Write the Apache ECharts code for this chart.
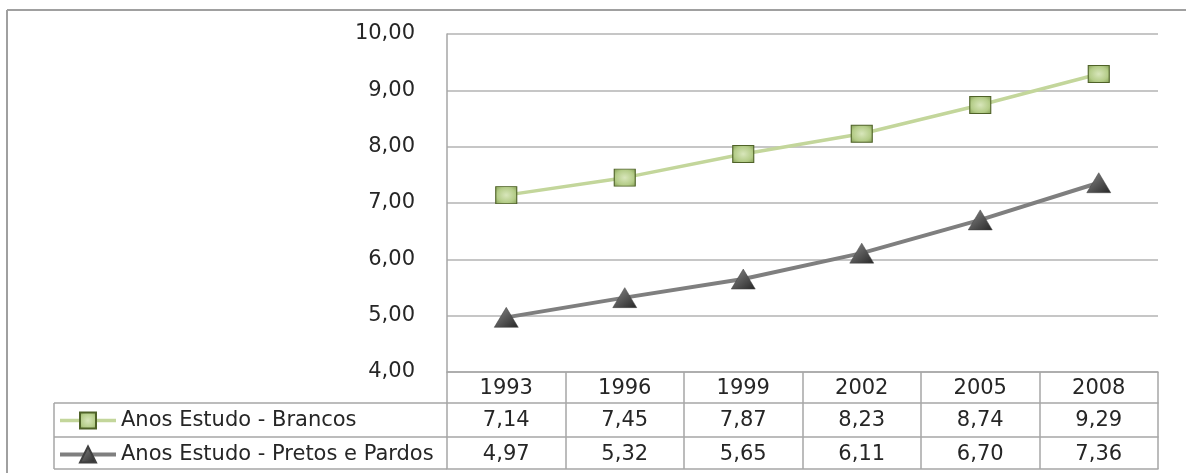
<!DOCTYPE html>
<html>
<head>
<meta charset="utf-8">
<script src="https://cdn.jsdelivr.net/npm/echarts@6/dist/echarts.min.js"></script>
<style>
html,body{margin:0;padding:0;background:#fff;}
#chart{width:1186px;height:473px;}
</style>
</head>
<body>
<div id="chart"></div>
<script>
const categories = ['1993', '1996', '1999', '2002', '2005', '2008'];
const brancos = [7.14, 7.45, 7.87, 8.23, 8.74, 9.29];
const pretos = [4.97, 5.32, 5.65, 6.11, 6.70, 7.36];
const seriesNames = ['Anos Estudo - Brancos', 'Anos Estudo - Pretos e Pardos'];
const yMin = 4, yMax = 10, yStep = 1;

const fmt = v => Number(v).toFixed(2).replace('.', ',');
const FONT = 'DejaVu Sans';
const FS = 21;
const TXT = '#262626';
const LINE = '#a6a6a6';
const GREEN = '#c3d69b';
const GRAY = '#7f7f7f';

const chart = echarts.init(document.getElementById('chart'));

const baseX = {
  type: 'category',
  data: categories,
  boundaryGap: true,
  position: 'bottom',
  gridIndex: 0,
  axisLine: { show: true, lineStyle: { color: LINE, width: 1.5 } },
  splitLine: { show: false }
};

const option = {
  backgroundColor: '#fff',
  animation: false,
  textStyle: { fontFamily: FONT },
  grid: { left: 447, right: 28, top: 34, bottom: 101, containLabel: false },
  legend: {
    orient: 'vertical',
    left: 53,
    top: 405,
    itemWidth: 56,
    itemHeight: 20,
    itemGap: 13,
    textStyle: { fontFamily: FONT, fontSize: FS, color: TXT, lineHeight: 20 },
    data: [
      { name: seriesNames[0], lineStyle: { width: 3.5, color: GREEN } },
      { name: seriesNames[1], lineStyle: { width: 4, color: GRAY } }
    ]
  },
  xAxis: [
    Object.assign({}, baseX, {
      offset: 0,
      axisTick: { show: true, length: 31, lineStyle: { color: LINE, width: 1.5 } },
      axisLabel: { show: true, margin: 17, verticalAlign: 'middle', fontFamily: FONT, fontSize: FS, color: TXT }
    }),
    Object.assign({}, baseX, {
      offset: 31,
      axisTick: { show: true, length: 34, lineStyle: { color: LINE, width: 1.5 } },
      axisLabel: { show: true, margin: 18, verticalAlign: 'middle', fontFamily: FONT, fontSize: FS, color: TXT,
        formatter: (v, i) => fmt(brancos[i]) }
    }),
    Object.assign({}, baseX, {
      offset: 65,
      axisTick: { show: true, length: 32, lineStyle: { color: LINE, width: 1.5 } },
      axisLabel: { show: true, margin: 18, verticalAlign: 'middle', fontFamily: FONT, fontSize: FS, color: TXT,
        formatter: (v, i) => fmt(pretos[i]) }
    }),
    Object.assign({}, baseX, {
      offset: 97,
      axisTick: { show: false },
      axisLabel: { show: false }
    })
  ],
  yAxis: {
    type: 'value',
    min: yMin,
    max: yMax,
    interval: yStep,
    axisLine: { show: true, lineStyle: { color: LINE, width: 1.5 } },
    axisTick: { show: false },
    splitLine: { show: true, lineStyle: { color: '#b3b3b3', width: 1.5 } },
    axisLabel: { margin: 32, fontFamily: FONT, fontSize: FS, color: TXT, formatter: v => fmt(v) }
  },
  series: [
    {
      name: seriesNames[0],
      type: 'line',
      xAxisIndex: 0,
      data: brancos,
      symbol: 'rect',
      symbolSize: [21, 17],
      lineStyle: { color: GREEN, width: 3.5 },
      itemStyle: {
        color: new echarts.graphic.RadialGradient(0.5, 0.5, 0.7, [
          { offset: 0, color: '#d8e6bb' },
          { offset: 0.6, color: '#b4cc88' },
          { offset: 1, color: '#7f9a4f' }
        ]),
        borderColor: '#4f6228',
        borderWidth: 1
      },
      z: 3
    },
    {
      name: seriesNames[1],
      type: 'line',
      xAxisIndex: 0,
      data: pretos,
      symbol: 'triangle',
      symbolSize: [24, 20],
      lineStyle: { color: GRAY, width: 4 },
      itemStyle: {
        color: new echarts.graphic.LinearGradient(0, 0, 1, 1, [
          { offset: 0, color: '#8a8a8a' },
          { offset: 1, color: '#262626' }
        ]),
        borderColor: '#404040',
        borderWidth: 0.5
      },
      z: 3
    }
  ]
};

chart.setOption(option);

// table left column frame and outer frame
const cx0 = chart.convertToPixel({ xAxisIndex: 0 }, categories[0]);
const cx1 = chart.convertToPixel({ xAxisIndex: 0 }, categories[1]);
const x0 = cx0 - (cx1 - cx0) / 2;
const yBase = chart.convertToPixel({ yAxisIndex: 0 }, yMin);
const rows = [yBase + 31, yBase + 65, yBase + 97];
const leftEdge = 54;
const ls = { stroke: LINE, lineWidth: 1.5 };
const g = [];
rows.forEach(y => g.push({ type: 'line', shape: { x1: leftEdge, y1: y, x2: x0, y2: y }, style: ls, silent: true }));
g.push({ type: 'line', shape: { x1: leftEdge, y1: rows[0], x2: leftEdge, y2: rows[2] }, style: ls, silent: true });
g.push({ type: 'line', shape: { x1: 7, y1: 10, x2: 1186, y2: 10 }, style: { stroke: '#a0a0a0', lineWidth: 2 }, silent: true });
g.push({ type: 'line', shape: { x1: 7, y1: 10, x2: 7, y2: 473 }, style: { stroke: '#a0a0a0', lineWidth: 2 }, silent: true });
chart.setOption({ graphic: g });
</script>
</body>
</html>
